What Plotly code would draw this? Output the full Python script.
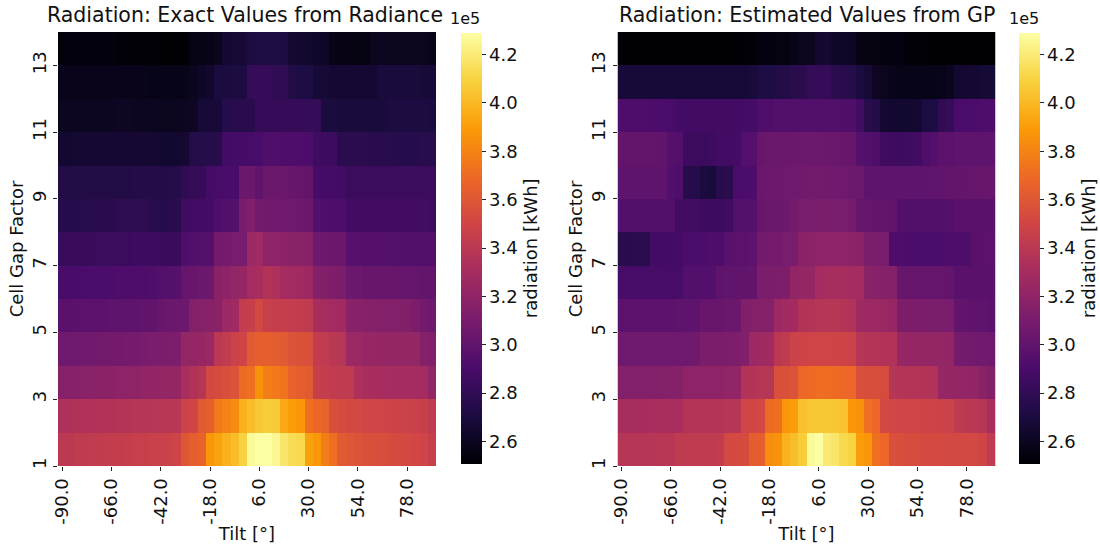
import numpy as np
import plotly.graph_objects as go

# Tilt angles (degrees) and cell gap factors
tilt = list(range(-90, 91, 4))
cell_gap = list(range(1, 14))
tilt_ticks = [-90, -66, -42, -18, 6, 30, 54, 78]
tilt_ticktext = ["-90.0", "-66.0", "-42.0", "-18.0", "6.0", "30.0", "54.0", "78.0"]
gap_ticks = [1, 3, 5, 7, 9, 11, 13]
cbar_ticks = [2.6, 2.8, 3.0, 3.2, 3.4, 3.6, 3.8, 4.0, 4.2]

# Radiation from Radiance, thousand kWh, one list per cell gap factor
exact_gf01 = [341,341,342,342,343,343,344,344,345,346,346,347,347,348,350,360,364,366,388,392,398,402,410,427,429,429,426,418,414,412,392,388,378,372,362,360,358,357,356,355,354,353,352,351,350,346]
exact_gf02 = [334,334,335,335,335,336,336,337,337,338,338,338,339,339,340,348,350,362,364,376,380,384,398,402,406,408,407,394,390,388,372,368,366,356,354,352,352,351,350,350,349,348,348,347,346,342]
exact_gf03 = [316,317,317,318,318,318,319,320,320,320,321,321,322,322,323,332,335,338,352,354,356,358,370,372,386,378,376,374,366,364,362,346,344,343,342,342,334,332,331,331,330,330,330,330,330,322]
exact_gf04 = [306,306,307,307,307,308,308,308,309,309,310,311,312,312,313,322,323,324,325,340,343,348,350,362,364,364,363,362,358,357,356,344,342,340,338,326,325,324,324,323,323,322,322,322,316,314]
exact_gf05 = [297,297,298,298,298,298,299,299,299,299,300,300,303,304,305,305,315,316,317,318,326,328,344,346,352,346,345,345,344,343,342,332,330,329,328,318,317,316,316,315,315,315,314,312,308,306]
exact_gf06 = [290,290,290,291,291,291,291,292,292,292,292,293,294,295,296,302,303,304,305,318,320,322,324,330,332,336,334,330,329,328,326,316,314,313,312,305,304,303,303,303,303,302,302,302,301,301]
exact_gf07 = [283,283,283,283,284,284,284,284,284,285,285,285,284,283,284,293,294,294,295,308,309,310,310,326,328,320,320,319,318,318,317,306,305,304,304,296,296,295,295,295,295,294,294,294,294,294]
exact_gf08 = [275,275,275,276,276,276,276,278,278,278,278,276,275,276,277,286,287,287,288,293,294,295,310,314,308,307,307,306,306,305,304,294,293,292,292,287,287,287,287,287,287,287,287,287,287,286]
exact_gf09 = [273,273,273,273,273,273,273,273,273,274,274,274,274,274,275,280,281,282,288,289,290,290,304,304,300,304,304,304,303,302,301,289,288,288,287,284,284,284,284,284,284,284,284,284,284,284]
exact_gf10 = [265,265,266,266,266,266,266,266,266,266,266,266,265,265,265,266,274,275,275,276,287,288,288,289,290,293,293,292,292,292,291,286,285,285,277,277,277,277,276,276,276,275,275,275,276,276]
exact_gf11 = [260,260,260,260,260,260,260,261,261,260,260,260,259,259,260,260,261,267,268,268,275,276,276,276,281,282,282,282,282,282,281,281,270,270,269,269,269,269,269,269,271,271,271,271,271,270]
exact_gf12 = [258,258,258,258,258,258,258,258,258,258,258,257,257,257,257,258,259,262,264,270,270,271,271,281,282,281,280,279,273,272,272,267,267,266,266,266,266,266,266,269,269,269,269,269,268,268]
exact_gf13 = [253,253,253,253,253,253,253,252,252,252,252,252,251,251,251,251,256,257,258,259,266,267,268,271,272,272,272,271,266,265,264,263,262,257,256,256,255,255,259,259,259,259,259,259,259,258]

# Radiation estimated by the GP model, thousand kWh
gp_gf01 = [338,338,338,338,338,339,339,342,342,342,342,342,343,352,353,354,363,364,384,386,398,402,408,427,429,420,418,412,410,390,388,372,368,356,355,354,354,353,353,353,352,352,352,352,350,342]
gp_gf02 = [331,331,331,331,332,332,332,332,337,337,337,337,337,338,338,350,351,352,370,372,388,390,403,405,406,406,405,404,388,386,372,368,352,351,350,350,350,349,349,348,348,342,341,340,338,332]
gp_gf03 = [315,315,315,315,315,315,316,316,320,320,320,320,320,321,321,336,337,338,338,356,357,358,368,370,371,371,370,369,368,356,355,355,354,338,337,337,337,336,336,324,323,322,322,321,318,315]
gp_gf04 = [306,306,306,306,306,306,306,306,306,307,312,312,312,312,313,314,326,327,328,340,342,348,349,350,350,350,350,349,348,338,337,337,336,336,324,323,322,322,322,322,321,309,308,307,307,306]
gp_gf05 = [298,298,298,298,298,298,298,299,299,299,303,303,303,304,304,314,315,316,316,326,328,329,336,337,338,338,338,337,336,327,326,326,325,324,313,312,312,312,311,311,310,301,300,299,299,298]
gp_gf06 = [289,289,289,289,289,289,289,289,294,294,294,294,299,300,300,300,301,311,312,312,313,321,322,323,330,331,331,331,330,330,318,317,316,316,303,302,302,302,302,302,301,297,297,297,297,297]
gp_gf07 = [276,276,277,277,287,287,288,288,291,291,291,292,292,297,298,298,299,308,309,309,310,310,318,319,320,320,320,320,319,318,312,311,310,292,292,291,291,291,291,291,292,292,293,297,298,298]
gp_gf08 = [294,294,294,294,294,294,294,287,287,287,285,285,285,286,294,295,295,303,304,304,305,309,310,310,311,311,310,310,309,302,302,301,301,300,294,294,294,294,294,294,295,297,297,297,297,297]
gp_gf09 = [299,299,299,299,299,299,294,293,276,275,270,269,276,277,290,291,292,304,305,305,306,306,307,308,308,307,307,306,305,305,299,299,299,299,299,299,299,299,300,300,301,301,302,302,303,303]
gp_gf10 = [301,301,301,301,301,300,295,294,285,284,284,285,287,287,288,294,295,303,304,304,304,304,305,305,305,304,304,303,303,295,294,293,286,285,285,286,287,293,294,298,298,299,299,299,299,299]
gp_gf11 = [292,292,292,292,291,291,290,288,287,287,287,287,287,287,287,288,288,293,293,294,294,294,294,294,294,294,294,293,293,287,276,274,266,265,265,265,266,271,272,280,281,290,291,291,292,292]
gp_gf12 = [268,268,268,268,268,268,268,268,268,268,268,268,268,268,268,268,269,272,272,273,274,276,277,281,282,281,277,276,275,270,268,261,259,258,257,257,257,257,257,258,259,265,266,266,267,267]
gp_gf13 = [251,251,251,251,251,251,251,251,251,251,251,251,251,251,251,251,252,254,254,255,255,258,259,260,265,266,262,262,261,256,255,255,254,254,254,252,252,251,251,251,251,251,251,251,251,251]

exact_rows = [exact_gf01, exact_gf02, exact_gf03, exact_gf04, exact_gf05, exact_gf06, exact_gf07,
              exact_gf08, exact_gf09, exact_gf10, exact_gf11, exact_gf12, exact_gf13]
gp_rows = [gp_gf01, gp_gf02, gp_gf03, gp_gf04, gp_gf05, gp_gf06, gp_gf07,
           gp_gf08, gp_gf09, gp_gf10, gp_gf11, gp_gf12, gp_gf13]
for row in exact_rows + gp_rows:
    assert len(row) == len(tilt), len(row)

z_exact = np.array(exact_rows) * 1e3
z_gp = np.array(gp_rows) * 1e3

# each gap factor row spans [g, g + 1]
gap_edges = cell_gap + [cell_gap[-1] + 1]

W, H = 1100, 544
FONT = "DejaVu Sans"
ZMIN, ZMAX = 2.508e5, 4.29e5


def px(x):
    return x / W


def py(y):
    return 1 - y / H


def colorbar(left):
    return dict(
        x=px(left), xanchor="left", xpad=0, ypad=0,
        y=py(248.3), yanchor="middle",
        len=431 / H, lenmode="fraction",
        thickness=21, thicknessmode="pixels",
        outlinewidth=0,
        ticks="outside", ticklen=4, tickwidth=1, tickcolor="#222",
        tickvals=[v * 1e5 for v in cbar_ticks],
        ticktext=[f"{v:.1f}" for v in cbar_ticks],
        tickfont=dict(family=FONT, size=18, color="#111"),
        title=dict(text="radiation [kWh]", side="right",
                   font=dict(family=FONT, size=18, color="#111")),
    )


fig = go.Figure()
fig.add_trace(go.Heatmap(
    z=z_exact, x=tilt, y=gap_edges, colorscale="Inferno", zmin=ZMIN, zmax=ZMAX,
    xaxis="x", yaxis="y", colorbar=colorbar(460.5)))
fig.add_trace(go.Heatmap(
    z=z_gp, x=tilt, y=gap_edges, colorscale="Inferno", zmin=ZMIN, zmax=ZMAX,
    xaxis="x2", yaxis="y2", colorbar=colorbar(1018.5)))

tickfont = dict(family=FONT, size=18, color="#111")
titlefont = dict(family=FONT, size=18, color="#111")


def xaxis(dom, anchor):
    return dict(
        domain=dom, anchor=anchor, range=[-92, 92], automargin=False,
        tickvals=tilt_ticks, ticktext=tilt_ticktext, tickangle=-90,
        ticks="outside", ticklen=4, tickcolor="#222", tickfont=tickfont,
        showgrid=False, zeroline=False, showline=False,
        title=dict(text="Tilt [°]", font=titlefont, standoff=2),
    )


def yaxis(anchor):
    return dict(
        domain=[py(466), py(32)], anchor=anchor, range=[1, 14], automargin=False,
        tickvals=gap_ticks, tickangle=-90,
        ticks="outside", ticklen=4, tickcolor="#222", tickfont=tickfont,
        showgrid=False, zeroline=False, showline=False,
        title=dict(text="Cell Gap Factor", font=titlefont, standoff=0),
    )


fig.update_layout(
    width=W, height=H,
    margin=dict(l=0, r=0, t=0, b=0, autoexpand=False),
    paper_bgcolor="white", plot_bgcolor="white",
    font=dict(family=FONT, color="#111"),
    xaxis=xaxis([px(58), px(436)], "y"),
    yaxis=yaxis("x"),
    xaxis2=xaxis([px(617.5), px(995.5)], "y2"),
    yaxis2=yaxis("x2"),
    annotations=[
        dict(text="Radiation: Exact Values from Radiance", x=px(245), y=py(29),
             xref="paper", yref="paper", xanchor="center", yanchor="bottom",
             showarrow=False, font=dict(family=FONT, size=20.5, color="#111")),
        dict(text="Radiation: Estimated Values from GP", x=px(806.5), y=py(29),
             xref="paper", yref="paper", xanchor="center", yanchor="bottom",
             showarrow=False, font=dict(family=FONT, size=20.5, color="#111")),
        dict(text="1e5", x=px(482), y=py(30), xref="paper", yref="paper",
             xanchor="right", yanchor="bottom", showarrow=False,
             font=dict(family=FONT, size=16, color="#111")),
        dict(text="1e5", x=px(1041), y=py(30), xref="paper", yref="paper",
             xanchor="right", yanchor="bottom", showarrow=False,
             font=dict(family=FONT, size=16, color="#111")),
    ],
)

fig.write_html("out.html")
